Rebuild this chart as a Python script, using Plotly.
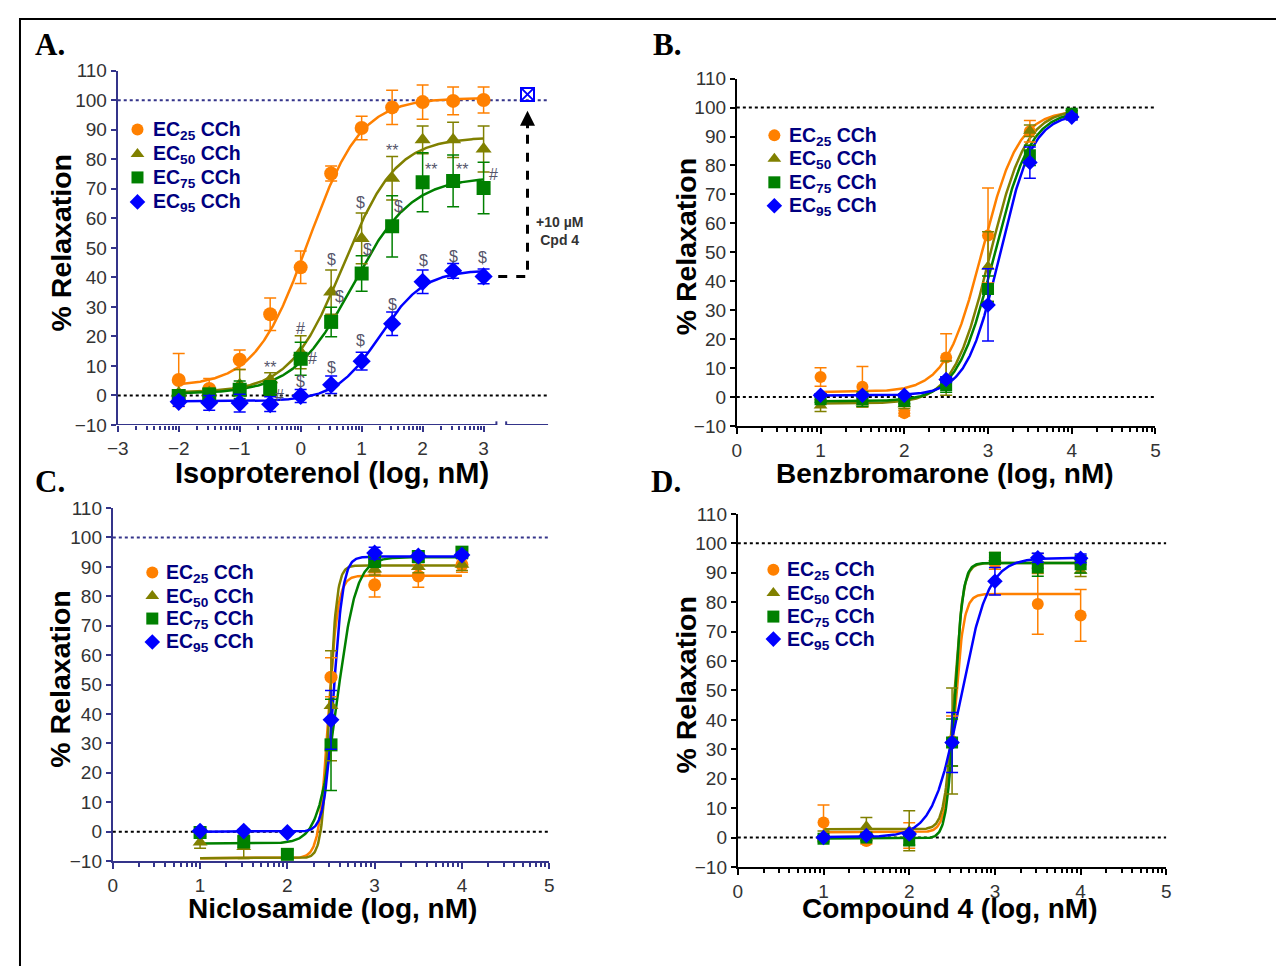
import numpy as np
import plotly.graph_objects as go

OFF = 8                      # browser body margin
W, H = 1284 - 2 * OFF, 974 - 2 * OFF

# ---------------- data ----------------
series_names = ['<b>EC<sub>25</sub> CCh</b>', '<b>EC<sub>50</sub> CCh</b>',
                '<b>EC<sub>75</sub> CCh</b>', '<b>EC<sub>95</sub> CCh</b>']
series_colors = ['#FF8000', '#808000', '#008000', '#0000FF']
series_symbols = ['circle', 'triangle-up', 'square', 'diamond']

# Panel A - Isoproterenol
a_x = [-2, -1.5, -1, -0.5, 0, 0.5, 1, 1.5, 2, 2.5, 3]
a_ec25 = [5.2, 2.2, 12.1, 27.5, 43.4, 75.2, 90.6, 97.6, 99.4, 99.8, 100.1]
a_ec25_err = [9, 3.5, 3.3, 5.5, 5.5, 2.5, 4, 5.8, 5.8, 4.7, 4.4]
a_ec50 = [0.8, 1.0, 3.6, 5.3, 14.6, 35.0, 53.2, 73.6, 86.6, 86.6, 83.5]
a_ec50_err = [1, 1.5, 5.2, 2.4, 5.6, 7.5, 8.6, 7.4, 4.7, 6, 7.8]
a_ec75 = [-0.2, 0.3, 1.9, 2.5, 12.4, 24.9, 41.3, 57.3, 72.2, 72.7, 70.3]
a_ec75_err = [1, 1.5, 3, 2.5, 5.6, 5, 6, 10.4, 10, 8.8, 8.7]
a_ec95 = [-2.2, -2.5, -2.6, -3.0, -0.2, 3.6, 11.6, 24.3, 38.5, 42.2, 40.3]
a_ec95_err = [1.5, 2.5, 3, 2.5, 2.2, 3, 3, 4, 4, 2.5, 2.5]
# fit parameters [bottom, top, logEC50, hill]
a_fit = [[3, 100.8, 0.12, 1.0], [1, 87.5, 0.7, 1.0], [0.5, 74, 0.85, 0.9], [-2, 42.5, 1.3, 1.2]]
a_rescue_x = [3.72]
a_rescue_y = [102]
a_marks = ['**', '#', '#', '#', '$', '$', '$', '$', '$', '$', '$', '$', '$', '$', '$',
           '**', '$', '**', '**', '#']
a_marks_x = [-0.51, -0.35, 0.0, 0.19, 0.0, 0.5, 0.5, 0.64, 1.09, 0.98, 1.5, 2.02, 2.5, 2.99,
             0.98, 1.5, 1.6, 2.13, 2.65, 3.16]
a_marks_y = [9.6, 0.0, 22.5, 12.6, 4.6, 9.6, 46.0, 33.4, 49.3, 18.5, 30.8, 45.7, 47.0, 46.7,
             65.2, 83.1, 63.9, 76.5, 76.5, 74.8]

# Panel B - Benzbromarone
b_x = [1, 1.5, 2, 2.5, 3, 3.5, 4]
b_ec25 = [6.9, 3.5, -5.6, 13.6, 55.8, 91.8, 97.5]
b_ec25_err = [3.2, 7, 1, 8.2, 16.4, 3.7, 1.5]
b_ec50 = [-3.0, -1.9, -2.5, 6.5, 45.1, 92.0, 98.0]
b_ec50_err = [2, 1.5, 1.5, 5.9, 12, 2, 1]
b_ec75 = [-0.8, -0.8, -1.4, 4.1, 37.3, 83.5, 97.9]
b_ec75_err = [1, 2.5, 1, 2.5, 4.5, 3.5, 1]
b_ec95 = [0.6, 0.6, 0.6, 6.0, 31.8, 81.0, 96.7]
b_ec95_err = [0.5, 0.5, 0.5, 1, 12.5, 5.4, 1]
b_fit = [[1.7, 99, 2.93, 2.0], [-2.3, 99.5, 3.02, 2.0], [-1.5, 99, 3.07, 2.0], [0.5, 98, 3.14, 2.2]]

# Panel C - Niclosamide
c_x25 = [2.5, 3, 3.5, 4]
c_ec25 = [52.5, 83.9, 86.9, 90.7]
c_ec25_err = [6.6, 4.1, 3.8, 2.5]
c_x50 = [1, 1.5, 2.5, 3, 3.5, 4]
c_ec50 = [-3.6, -5.1, 42.8, 89.2, 90.0, 90.8]
c_ec50_err = [2, 4, 18.7, 2, 2, 2]
c_x = [1, 1.5, 2, 2.5, 3, 3.5, 4]
c_ec75 = [-0.3, -3.4, -7.7, 29.5, 91.9, 93.5, 95.0]
c_ec75_err = [1.5, 2, 1.5, 15.5, 2, 2, 1.5]
c_ec95 = [0.2, 0.2, -0.3, 38.0, 94.7, 93.7, 94.0]
c_ec95_err = [0.5, 0.5, 0.5, 10, 2, 1, 1]
c_fit = [[-9, 87, 2.47, 8], [-9, 90.5, 2.48, 10], [-4, 93.3, 2.57, 4], [0, 93.5, 2.53, 8]]

# Panel D - Compound 4
d_x = [1, 1.5, 2, 2.5, 3, 3.5, 4]
d_ec25 = [5.1, -1.2, 0.7, 32.8, 93.2, 79.4, 75.5]
d_ec25_err = [6, 1, 4.3, 8.5, 2, 10.3, 8.8]
d_ec50 = [0.7, 3.8, 2.3, 32.8, 94.9, 94.0, 90.7]
d_ec50_err = [1.5, 3, 6.8, 18, 2, 2.5, 2]
d_ec75 = [-0.4, 0.0, -1.0, 32.3, 94.9, 91.8, 92.9]
d_ec75_err = [1, 1, 1.5, 8, 2, 3, 3]
d_ec95 = [0.0, 0.7, 1.2, 32.3, 87.1, 95.1, 94.9]
d_ec95_err = [0.5, 0.5, 0.5, 10.2, 4.7, 1.5, 1.5]
d_fit = [[1.8, 82.8, 2.53, 8], [2.8, 93.3, 2.52, 8], [-0.3, 93.3, 2.53, 9], [0.2, 95, 2.6, 2.7]]

y_ticks = list(range(-10, 111, 10))

# ---------------- helpers ----------------
def fx(p):
    return (p - OFF) / W

def fy(p):
    return 1 - (p - OFF) / H

def px_x(a, b):
    return [fx(a), fx(b)]

def px_y(top, bottom):
    return [fy(bottom), fy(top)]

def logistic(x, p):
    b, t, c, h = p
    return b + (t - b) / (1 + 10 ** ((c - x) * h))

def minor_vals(d0, d1):
    return [d + np.log10(k) for d in range(d0, d1) for k in range(2, 10)]

NAVY = '#34348a'
fig = go.Figure()

panels = [
    dict(xa='x', ya='y',
         xs=[a_x] * 4, ys=[a_ec25, a_ec50, a_ec75, a_ec95],
         es=[a_ec25_err, a_ec50_err, a_ec75_err, a_ec95_err], fit=a_fit, span=(-2, 3), msize=14,
         leg_mx=128, leg_tx=142, leg_y=[122, 147, 171, 196]),
    dict(xa='x2', ya='y2',
         xs=[b_x] * 4, ys=[b_ec25, b_ec50, b_ec75, b_ec95],
         es=[b_ec25_err, b_ec50_err, b_ec75_err, b_ec95_err], fit=b_fit, span=(1, 4), msize=12,
         leg_mx=773, leg_tx=786, leg_y=[128, 152, 176, 200]),
    dict(xa='x3', ya='y3',
         xs=[c_x25, c_x50, c_x, c_x], ys=[c_ec25, c_ec50, c_ec75, c_ec95],
         es=[c_ec25_err, c_ec50_err, c_ec75_err, c_ec95_err], fit=c_fit, span=(1, 4), msize=13,
         leg_mx=143, leg_tx=155, leg_y=[575, 599, 622, 646]),
    dict(xa='x4', ya='y4',
         xs=[d_x] * 4, ys=[d_ec25, d_ec50, d_ec75, d_ec95],
         es=[d_ec25_err, d_ec50_err, d_ec75_err, d_ec95_err], fit=d_fit, span=(1, 4), msize=12,
         leg_mx=772, leg_tx=784, leg_y=[572, 596, 620, 643]),
]

for p in panels:
    xx = np.linspace(p['span'][0], p['span'][1], 400)
    for i in range(4):
        fig.add_trace(go.Scatter(x=xx, y=logistic(xx, p['fit'][i]), mode='lines',
                                 line=dict(color=series_colors[i], width=2.5),
                                 xaxis=p['xa'], yaxis=p['ya'], showlegend=False,
                                 hoverinfo='skip'))
    for i in range(4):
        fig.add_trace(go.Scatter(x=p['xs'][i], y=p['ys'][i], mode='markers',
                                 name=series_names[i], showlegend=False,
                                 marker=dict(symbol=series_symbols[i], size=p['msize'],
                                             color=series_colors[i]),
                                 error_y=dict(type='data', array=p['es'][i], visible=True,
                                              color=series_colors[i], thickness=1.5, width=6),
                                 xaxis=p['xa'], yaxis=p['ya']))

# rescue point in A
fig.add_trace(go.Scatter(x=a_rescue_x, y=a_rescue_y, mode='markers', showlegend=False,
                         marker=dict(symbol='square-x-open', size=13, color='#0000FF',
                                     line=dict(width=2)),
                         xaxis='x', yaxis='y'))

# legend swatches on a pixel-coordinate overlay axis
for p in panels:
    for i in range(4):
        fig.add_trace(go.Scatter(x=[p['leg_mx']], y=[p['leg_y'][i]], mode='markers',
                                 showlegend=False, hoverinfo='skip',
                                 marker=dict(symbol=series_symbols[i], size=12,
                                             color=series_colors[i]),
                                 xaxis='x5', yaxis='y5'))

tickfont = dict(family='Liberation Sans, Arial', size=19, color='#333333')

def xaxis(domain, rng, tickvals, minors, color, anchor, showline=True):
    return dict(domain=domain, range=rng, anchor=anchor, tickmode='array', tickvals=tickvals,
                ticks='outside', ticklen=6, tickwidth=2, tickcolor=color,
                showline=showline, linecolor=color, linewidth=2, showgrid=False,
                zeroline=False, tickfont=tickfont,
                minor=dict(tickmode='array', tickvals=minors, ticks='outside', ticklen=4,
                           tickwidth=1.5, tickcolor=color, showgrid=False))

def yaxis(domain, color, anchor):
    return dict(domain=domain, range=[-10, 110], anchor=anchor, tickmode='array',
                tickvals=y_ticks, ticks='outside', ticklen=5, tickwidth=2, tickcolor=color,
                showline=True, linecolor=color, linewidth=2, showgrid=False, zeroline=False,
                tickfont=tickfont)

fig.update_layout(
    xaxis=xaxis(px_x(108, 544), [-3, 4.06], list(range(-3, 4)), minor_vals(-3, 3), NAVY, 'y', showline=False),
    yaxis=yaxis(px_y(62, 424), NAVY, 'x'),
    xaxis2=xaxis(px_x(735, 1159), [0, 5], list(range(0, 6)), minor_vals(0, 5), '#000000', 'y2'),
    yaxis2=yaxis(px_y(70, 425), '#000000', 'x2'),
    xaxis3=xaxis(px_x(103, 545), [0, 5], list(range(0, 6)), minor_vals(0, 5), NAVY, 'y3'),
    yaxis3=yaxis(px_y(509, 870), NAVY, 'x3'),
    xaxis4=xaxis(px_x(736, 1170), [0, 5], list(range(0, 6)), minor_vals(0, 5), '#000000', 'y4'),
    yaxis4=yaxis(px_y(515, 876), '#000000', 'x4'),
    xaxis5=dict(domain=[0, 1], range=[OFF, OFF + W], visible=False, anchor='y5', fixedrange=True),
    yaxis5=dict(domain=[0, 1], range=[OFF + H, OFF], visible=False, anchor='x5', fixedrange=True),
)

shapes = []
# figure frame
shapes.append(dict(type='rect', xref='paper', yref='paper', x0=fx(9), x1=1.02, y0=-0.02,
                   y1=fy(9), line=dict(color='black', width=2)))
# reference lines
for xa, ya, x0, x1, c100 in [('x', 'y', -3, 4.06, NAVY), ('x2', 'y2', 0, 5, '#000000'),
                             ('x3', 'y3', 0, 5, NAVY), ('x4', 'y4', 0, 5, '#000000')]:
    shapes.append(dict(type='line', xref=xa, yref=ya, x0=x0, x1=x1, y0=0, y1=0,
                       line=dict(color='black', width=2, dash='dot'), layer='below'))
    shapes.append(dict(type='line', xref=xa, yref=ya, x0=x0, x1=x1, y0=100, y1=100,
                       line=dict(color=c100, width=2, dash='dot'), layer='below'))
# broken x-axis in A
shapes.append(dict(type='line', xref='x', yref='y', x0=-3, x1=3.21, y0=-10, y1=-10,
                   line=dict(color=NAVY, width=2)))
shapes.append(dict(type='line', xref='x', yref='y', x0=3.37, x1=4.06, y0=-10, y1=-10,
                   line=dict(color=NAVY, width=2)))
for bx in (3.21, 3.37):
    shapes.append(dict(type='line', xref='x', yref='y', x0=bx, x1=bx, y0=-11.2, y1=-8.8,
                       line=dict(color=NAVY, width=2)))
# dashed arrow path
shapes.append(dict(type='path', xref='x', yref='y',
                   path=f'M 3.24,{a_ec95[-1]} L {a_rescue_x[0]},{a_ec95[-1]} L {a_rescue_x[0]},92',
                   line=dict(color='black', width=3, dash='dash')))
fig.update_layout(shapes=shapes)

ann = []
ann.append(dict(xref='x', yref='y', x=a_rescue_x[0], y=96.5, ax=a_rescue_x[0], ay=90,
                axref='x', ayref='y', text='', showarrow=True, arrowhead=2, arrowsize=1,
                arrowwidth=3, arrowcolor='black'))
ann.append(dict(xref='paper', yref='paper', x=fx(555), y=fy(226), xanchor='center',
                yanchor='middle', showarrow=False,
                text='<b>+10 µM<br>Cpd 4</b>', align='center',
                font=dict(family='Liberation Sans, Arial', size=14, color='#333333')))
for t, mx, my in zip(a_marks, a_marks_x, a_marks_y):
    ann.append(dict(xref='x', yref='y', x=mx, y=my, text=t, showarrow=False,
                    xanchor='center', yanchor='middle',
                    font=dict(family='Liberation Sans, Arial', size=16, color='#55556a')))

# legend labels
legfont = dict(family='Liberation Sans, Arial', size=19.5, color='#000080')
for p in panels:
    for i in range(4):
        ann.append(dict(xref='paper', yref='paper', x=fx(p['leg_tx']), y=fy(p['leg_y'][i] + 1),
                        xanchor='left', yanchor='middle', text=series_names[i],
                        showarrow=False, font=legfont))

for txt, cx, cy, fs in [('Isoproterenol (log, nM)', 325, 473, 29),
                        ('Benzbromarone (log, nM)', 946, 474, 28),
                        ('Niclosamide (log, nM)', 325, 918, 28),
                        ('Compound 4 (log, nM)', 951, 918, 28)]:
    ann.append(dict(xref='paper', yref='paper', x=fx(cx), y=fy(cy), xanchor='center',
                    yanchor='middle', text=f'<b>{txt}</b>', showarrow=False,
                    font=dict(family='Liberation Sans, Arial', size=fs, color='black')))
title_font = dict(family='Liberation Sans, Arial', size=28.5, color='black')
for cx, cy in [(51, 238), (683, 242), (50, 684), (684, 690)]:
    ann.append(dict(xref='paper', yref='paper', x=fx(cx), y=fy(cy), xanchor='center',
                    yanchor='middle', text='<b>% Relaxation</b>', textangle=-90,
                    showarrow=False, font=title_font))
letter_font = dict(family='Liberation Serif, Times New Roman', size=31, color='black')
for txt, lx, ly in [('A.', 22, 35), ('B.', 648, 35), ('C.', 22, 482), ('D.', 646, 482)]:
    ann.append(dict(xref='paper', yref='paper', x=fx(lx), y=fy(ly), xanchor='left',
                    yanchor='middle', text=f'<b>{txt}</b>', showarrow=False, font=letter_font))
fig.update_layout(annotations=ann)

fig.update_layout(width=W, height=H, margin=dict(l=0, r=0, t=0, b=0),
                  paper_bgcolor='white', plot_bgcolor='rgba(0,0,0,0)', autosize=False,
                  showlegend=False, font=dict(family='Liberation Sans, Arial'))

fig.write_html('out.html', config={'displayModeBar': False})
